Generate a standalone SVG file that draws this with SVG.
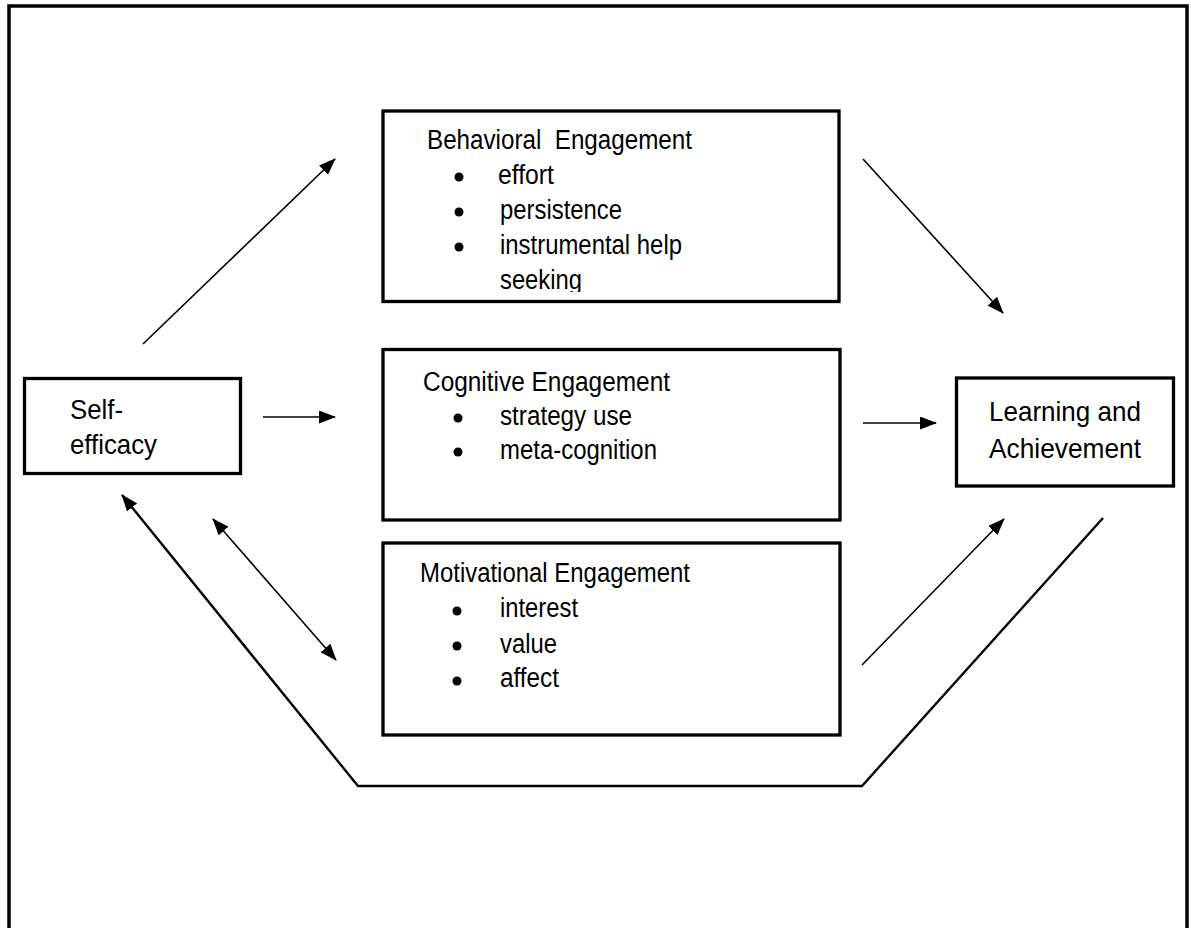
<svg xmlns="http://www.w3.org/2000/svg" width="1191" height="928" viewBox="0 0 1191 928">
  <style>
    .box { fill: #fff; stroke: #000; stroke-width: 3.3; }
    .frame { fill: none; stroke: #000; stroke-width: 3.5; }
    .t { font-family: "Liberation Sans", Arial, sans-serif; fill: #000; }
    .big { font-size: 28.5px; }
    .med { font-size: 27px; white-space: pre; }
    .conn { fill: none; stroke: #000; stroke-width: 1.6; }
    .fb { fill: none; stroke: #000; stroke-width: 2.4; stroke-linejoin: miter; }
  </style>
  <defs>
    <marker id="ah" markerUnits="userSpaceOnUse" markerWidth="17" markerHeight="13" viewBox="0 0 17 13" refX="16" refY="6.5" orient="auto-start-reverse">
      <path d="M0,0 L17,6.5 L0,13 z" fill="#000"/>
    </marker>
    <clipPath id="bclip"><rect x="384" y="112" width="454" height="180"/></clipPath>
  </defs>
  <rect width="1191" height="928" fill="#fff"/>
  <path class="frame" d="M9,935 V6 H1187 V935"/>

  <g id="self-efficacy">
    <rect class="box" x="24.5" y="378.5" width="216" height="95"/>
    <text class="t big" x="70" y="419" textLength="53" lengthAdjust="spacingAndGlyphs">Self-</text>
    <text class="t big" x="70" y="454" textLength="87" lengthAdjust="spacingAndGlyphs">efficacy</text>
  </g>

  <g id="behavioral">
    <rect class="box" x="383" y="111" width="456" height="190.5"/>
    <text class="t med" x="427" y="149" textLength="265" lengthAdjust="spacingAndGlyphs">Behavioral  Engagement</text>
    <circle cx="459" cy="177" r="4.5"/>
    <text class="t med" x="498" y="184" textLength="56" lengthAdjust="spacingAndGlyphs">effort</text>
    <circle cx="459" cy="212" r="4.5"/>
    <text class="t med" x="500" y="219" textLength="122" lengthAdjust="spacingAndGlyphs">persistence</text>
    <circle cx="459" cy="247" r="4.5"/>
    <text class="t med" x="500" y="254" textLength="182" lengthAdjust="spacingAndGlyphs">instrumental help</text>
    <text class="t med" x="500" y="289" textLength="82" lengthAdjust="spacingAndGlyphs" clip-path="url(#bclip)">seeking</text>
  </g>

  <g id="cognitive">
    <rect class="box" x="383" y="349.5" width="457" height="170.5"/>
    <text class="t med" x="423" y="391" textLength="247" lengthAdjust="spacingAndGlyphs">Cognitive Engagement</text>
    <circle cx="458" cy="418" r="4.5"/>
    <text class="t med" x="500" y="425" textLength="132" lengthAdjust="spacingAndGlyphs">strategy use</text>
    <circle cx="458" cy="452" r="4.5"/>
    <text class="t med" x="500" y="459" textLength="157" lengthAdjust="spacingAndGlyphs">meta-cognition</text>
  </g>

  <g id="motivational">
    <rect class="box" x="383" y="543" width="457" height="192"/>
    <text class="t med" x="420" y="582" textLength="270" lengthAdjust="spacingAndGlyphs">Motivational Engagement</text>
    <circle cx="457" cy="611" r="4.5"/>
    <text class="t med" x="500" y="617" textLength="78" lengthAdjust="spacingAndGlyphs">interest</text>
    <circle cx="457" cy="646" r="4.5"/>
    <text class="t med" x="500" y="653" textLength="57" lengthAdjust="spacingAndGlyphs">value</text>
    <circle cx="457" cy="681" r="4.5"/>
    <text class="t med" x="500" y="687" textLength="59" lengthAdjust="spacingAndGlyphs">affect</text>
  </g>

  <g id="learning">
    <rect class="box" x="956.5" y="378" width="217" height="108"/>
    <text class="t big" x="989" y="421" textLength="152" lengthAdjust="spacingAndGlyphs">Learning and</text>
    <text class="t big" x="989" y="458" textLength="152" lengthAdjust="spacingAndGlyphs">Achievement</text>
  </g>

  <g id="connectors">
    <line class="conn" x1="143" y1="344" x2="335" y2="159" marker-end="url(#ah)"/>
    <line class="conn" x1="263" y1="417" x2="335" y2="417" marker-end="url(#ah)"/>
    <line class="conn" x1="213" y1="519" x2="336" y2="660" marker-start="url(#ah)" marker-end="url(#ah)"/>
    <line class="conn" x1="863" y1="159" x2="1003" y2="313" marker-end="url(#ah)"/>
    <line class="conn" x1="863" y1="423" x2="936" y2="423" marker-end="url(#ah)"/>
    <line class="conn" x1="862" y1="665" x2="1004" y2="519" marker-end="url(#ah)"/>
    <polyline class="fb" points="1103,518 862,786 358,786 122,495" marker-end="url(#ah)"/>
  </g>
</svg>
